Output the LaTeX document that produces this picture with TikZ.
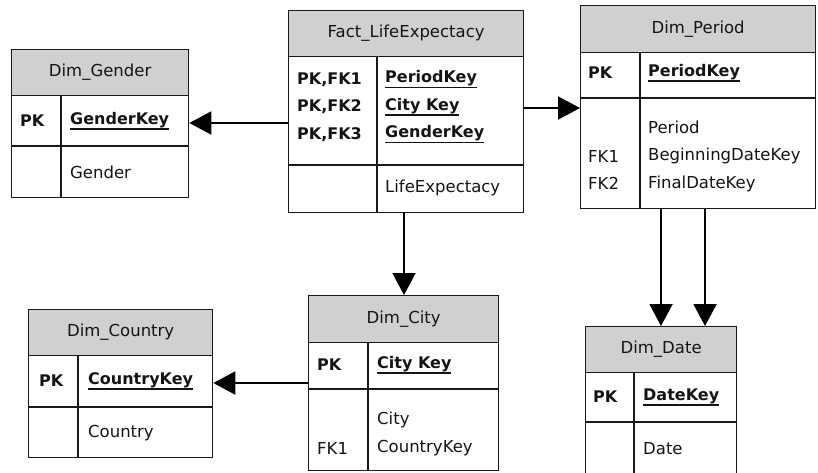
\documentclass[tikz,border=0pt]{standalone}
\usepackage{fontspec}
\setmainfont{DejaVu Sans}
\usetikzlibrary{arrows.meta}
\definecolor{hdrgray}{RGB}{208,208,208}
\definecolor{ln}{RGB}{25,25,25}
\definecolor{tx}{RGB}{20,20,20}
\newcommand\ulk[1]{\setbox0\hbox{#1}\rlap{\raisebox{-5.5pt}{\rule{\wd0}{1.5pt}}}\box0}
\newcommand\ertable[9]{% #1 name, #2 x1, #3 y1, #4 x2, #5 y2, #6 header bottom, #7 divider y, #8 column x, #9 title
  \node[tbl, minimum width=#4pt-#2pt, minimum height=#5pt-#3pt] (#1) at (#2,#3) {};
  \node[hdr, minimum width=#4pt-#2pt, minimum height=#6pt-#3pt] (#1H) at (#2,#3) {};
  \node[ttl] (#1T) at (#1H.center) {#9};
  \coordinate (#1D) at (#2,#7);
  \coordinate (#1C) at (#8,#6);
  \draw[sep] (#1D) -- (#1D -| #1.east);
  \draw[sep] (#1C) -- (#1C |- #1.south);
}
\begin{document}
\begin{tikzpicture}[x=1pt,y=-1pt,
  tbl/.style={draw=ln, fill=white, line width=1.3pt, inner sep=0pt, anchor=north west},
  hdr/.style={draw=ln, fill=hdrgray, line width=1.3pt, inner sep=0pt, anchor=north west},
  sep/.style={draw=ln, line width=1.3pt},
  ttl/.style={inner sep=0pt, text=tx, font=\fontsize{16.5}{19}\selectfont},
  txt/.style={anchor=west, inner sep=0pt, text=tx, align=left, font=\fontsize{16.5}{27.5}\selectfont},
  key/.style={anchor=west, inner sep=0pt, text=tx, align=left, font=\fontsize{16}{27.5}\selectfont\bfseries},
  fk/.style={draw=black, line width=2pt, -{Triangle[length=22pt,width=23pt]}},
  ]
\useasboundingbox (0,0) rectangle (818,472);

% tables
\ertable{gender}{11}{49}{188}{197}{95}{146}{61}{Dim\_Gender}
\ertable{fact}{288}{10}{523}{212}{56}{165}{377}{Fact\_LifeExpectacy}
\ertable{period}{580}{5}{815}{208}{52}{98}{640}{Dim\_Period}
\ertable{city}{308}{295}{498}{470}{342}{389}{368}{Dim\_City}
\ertable{country}{28}{309}{212}{457}{355}{407}{78}{Dim\_Country}
\ertable{date}{585}{326}{736}{475}{372}{422}{634}{Dim\_Date}

% Dim_Gender
\node[key] (gpk) at (20,121) {PK};
\node[key] (gkey) at (70,121) {\ulk{GenderKey}};
\node[txt] (gatt) at (70,172) {Gender};

% Fact
\node[key] (fpk) at (297,107) {PK,FK1\\PK,FK2\\PK,FK3};
\node[key] (fkey) at (385,107) {\ulk{PeriodKey}\\\ulk{City Key}\\\ulk{GenderKey}};
\node[txt] (fatt) at (385,188) {LifeExpectacy};

% Dim_Period
\node[key] (ppk) at (588,73) {PK};
\node[key] (pkey) at (648,73) {\ulk{PeriodKey}};
\node[txt] (pfk) at (588,170) {FK1\\FK2};
\node[txt] (patt) at (648,156) {Period\\BeginningDateKey\\FinalDateKey};

% Dim_City
\node[key] (cpk) at (317,365) {PK};
\node[key] (ckey) at (377,365) {\ulk{City Key}};
\node[txt] (cfk) at (317,448) {FK1};
\node[txt] (catt) at (377,434) {City\\CountryKey};

% Dim_Country
\node[key] (opk) at (39,381) {PK};
\node[key] (okey) at (88,381) {\ulk{CountryKey}};
\node[txt] (oatt) at (88,433) {Country};

% Dim_Date
\node[key] (dpk) at (593,397) {PK};
\node[key] (dkey) at (643,397) {\ulk{DateKey}};
\node[txt] (datt) at (643,449) {Date};

% connector levels
\coordinate (lvlG) at (0,123);
\coordinate (lvlP) at (0,108);
\coordinate (lvlC) at (404,0);
\coordinate (lvlO) at (0,383);
\coordinate (lvlD1) at (661,0);
\coordinate (lvlD2) at (705,0);

% connectors
\draw[fk] (fact.west |- lvlG) -- (gender.east |- lvlG);
\draw[fk] (fact.east |- lvlP) -- (period.west |- lvlP);
\draw[fk] (lvlC |- fact.south) -- (lvlC |- city.north);
\draw[fk] (city.west |- lvlO) -- (country.east |- lvlO);
\draw[fk] (lvlD1 |- period.south) -- (lvlD1 |- date.north);
\draw[fk] (lvlD2 |- period.south) -- (lvlD2 |- date.north);
\end{tikzpicture}
\end{document}
